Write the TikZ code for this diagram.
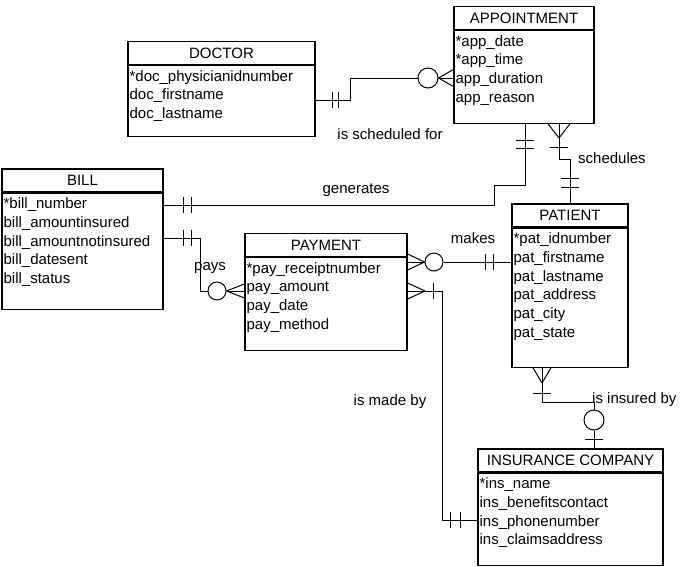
\documentclass[tikz,border=0pt]{standalone}
\usepackage{fontspec}
\setmainfont{Liberation Sans}
\usetikzlibrary{calc}

\tikzset{
  ehead/.style={draw, line width=1.2pt, inner sep=0pt, minimum height=23pt, font=\fontsize{15}{18.7}\selectfont},
  ebody/.style={draw, line width=1.2pt, inner sep=0pt, anchor=north},
  attrs/.style={anchor=north west, align=left, inner xsep=2pt, inner ysep=0pt, font=\fontsize{15}{18.7}\selectfont},
  rel/.style={line width=1pt},
  ring/.style={circle, draw, line width=1pt, inner sep=0pt, minimum size=#1},
  ring/.default=18pt,
  lbl/.style={inner sep=0pt, font=\fontsize{15}{18}\selectfont}
}

\begin{document}
\begin{tikzpicture}[x=1pt, y=-1pt]
  \useasboundingbox (0,0) rectangle (700,566);

  % entities
  \node[ehead, minimum width=187pt] (doctor) at (221.5,53) {DOCTOR};
  \node[ebody, minimum width=187pt, minimum height=70.5pt] (doctor-b) at (doctor.south) {};
  \node[attrs] (doctor-a) at ([yshift=-5pt]doctor-b.north west)
    {*doc\_physicianidnumber\\doc\_firstname\\doc\_lastname};

  \node[ehead, minimum width=140pt] (appointment) at (524,18) {APPOINTMENT};
  \node[ebody, minimum width=140pt, minimum height=92.5pt] (appointment-b) at (appointment.south) {};
  \node[attrs] (appointment-a) at ([yshift=-5pt]appointment-b.north west)
    {*app\_date\\*app\_time\\app\_duration\\app\_reason};

  \node[ehead, minimum width=161pt] (bill) at (82.5,180.5) {BILL};
  \node[ebody, minimum width=161pt, minimum height=116pt] (bill-b) at (bill.south) {};
  \node[attrs] (bill-a) at ([yshift=-5pt]bill-b.north west)
    {*bill\_number\\bill\_amountinsured\\bill\_amountnotinsured\\bill\_datesent\\bill\_status};

  \node[ehead, minimum width=162pt] (payment) at (326,245) {PAYMENT};
  \node[ebody, minimum width=162pt, minimum height=92.5pt] (payment-b) at (payment.south) {};
  \node[attrs] (payment-a) at ([yshift=-5pt]payment-b.north west)
    {*pay\_receiptnumber\\pay\_amount\\pay\_date\\pay\_method};

  \node[ehead, minimum width=116pt] (patient) at (570,215.5) {PATIENT};
  \node[ebody, minimum width=116pt, minimum height=139pt] (patient-b) at (patient.south) {};
  \node[attrs] (patient-a) at ([yshift=-5pt]patient-b.north west)
    {*pat\_idnumber\\pat\_firstname\\pat\_lastname\\pat\_address\\pat\_city\\pat\_state};

  \node[ehead, minimum width=185pt] (insurance) at (570.5,460.5) {INSURANCE COMPANY};
  \node[ebody, minimum width=185pt, minimum height=92pt] (insurance-b) at (insurance.south) {};
  \node[attrs] (insurance-a) at ([yshift=-5pt]insurance-b.north west)
    {*ins\_name\\ins\_benefitscontact\\ins\_phonenumber\\ins\_claimsaddress};

  % doctor -- appointment
  \node[ring=20pt] (c1) at (428,78) {};
  \draw[rel] (doctor-b.east) -| (350,78) -- (c1.west);
  \foreach \y in {69.5,78,86.5}
    \draw[rel] (c1.east) -- (appointment-b.west |- 0,\y);
  \foreach \x in {332,338}
    \draw[rel] (\x,91.75) -- ++(0,16);

  % bill -- appointment
  \draw[rel] (bill-b.east |- 0,205) -| (494,185) -| ([xshift=1pt]appointment-b.south);
  \foreach \x in {183,191}
    \draw[rel] (\x,197) -- ++(0,16);
  \foreach \y in {140,148}
    \draw[rel] (516,\y) -- ++(18,0);

  % appointment -- patient
  \coordinate (s1) at (559,138);
  \draw[rel] ([xshift=35pt]appointment-b.south) |- (570,159) -- (patient.north);
  \foreach \x in {548,559,570}
    \draw[rel] (s1) -- (\x,0 |- appointment-b.south);
  \draw[rel] (550,147) -- ++(18,0);
  \foreach \y in {178,187}
    \draw[rel] (561,\y) -- ++(18,0);

  % bill -- payment
  \node[ring] (c2) at (217,291) {};
  \draw[rel] (bill-b.east |- 0,238) -| (200,291) -- (c2.west);
  \foreach \y in {284,291,298}
    \draw[rel] (c2.east) -- (payment-b.west |- 0,\y);
  \foreach \x in {183,191}
    \draw[rel] (\x,230) -- ++(0,16);

  % payment -- patient
  \node[ring] (c3) at (434,262) {};
  \draw[rel] (c3.east) -- (patient-b.west |- 0,262);
  \foreach \y in {254,262,270}
    \draw[rel] (c3.west) -- (payment-b.east |- 0,\y);
  \foreach \x in {485,493}
    \draw[rel] (\x,254) -- ++(0,16);

  % payment -- insurance company
  \coordinate (m1) at (425,291);
  \draw[rel] (m1) -- (442,291) |- (insurance-b.west |- 0,520);
  \foreach \y in {283,291,299}
    \draw[rel] (m1) -- (payment-b.east |- 0,\y);
  \draw[rel] (433,283) -- ++(0,16);
  \foreach \x in {450,460}
    \draw[rel] (\x,512) -- ++(0,16);

  % patient -- insurance company
  \coordinate (n1) at (542,383);
  \node[ring=20pt] (c4) at (594,420) {};
  \draw[rel] (542,0 |- patient-b.south) |- (594,402) -- (c4.north);
  \draw[rel] (c4.south) -- (594,0 |- insurance.north);
  \foreach \x in {533,542,551}
    \draw[rel] (n1) -- (\x,0 |- patient-b.south);
  \draw[rel] (533,393) -- ++(18,0);
  \draw[rel] (585,439) -- ++(18,0);

  % relationship names
  \node[lbl] (l-sched) at (390,134) {is scheduled for};
  \node[lbl] (l-gen) at (356,190) {generates};
  \node[lbl, anchor=west] (l-schedules) at (578,158) {schedules};
  \node[lbl] (l-pays) at (210,268) {pays};
  \node[lbl] (l-makes) at (473,238) {makes};
  \node[lbl] (l-madeby) at (390,402) {is made by};
  \node[lbl, anchor=west] (l-insured) at (592,400) {is insured by};
\end{tikzpicture}
\end{document}
